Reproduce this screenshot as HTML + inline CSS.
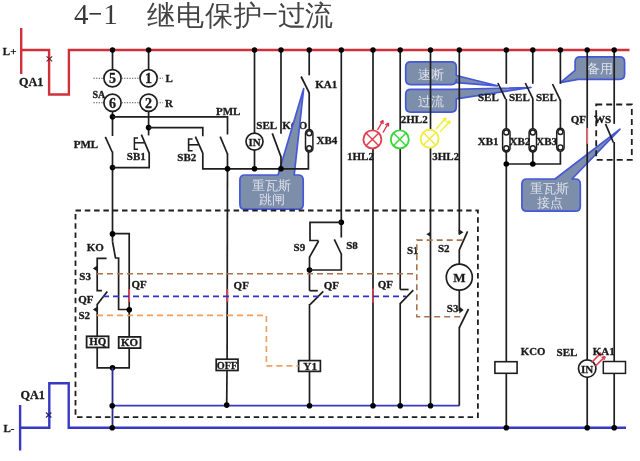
<!DOCTYPE html>
<html><head><meta charset="utf-8"><style>
html,body{margin:0;padding:0;background:#fff;overflow:hidden}
svg{display:block;will-change:transform}
.t{position:absolute;font-family:"Liberation Sans",sans-serif;color:#333;white-space:nowrap}
</style></head><body>
<div style="position:relative;width:640px;height:461px;overflow:hidden">
<svg width="640" height="461" viewBox="0 0 640 461">
<text x="74" y="24" font-family="Liberation Serif" font-size="29" fill="#3a3a3a">4</text>
<rect x="89.5" y="13" width="11.5" height="1.6" fill="#333"/>
<text x="103.3" y="24" font-family="Liberation Serif" font-size="29" fill="#3a3a3a">1</text>
<text x="147" y="25.3" font-family="Liberation Sans" font-size="28" font-weight="300" fill="#444" letter-spacing="1">继电保护</text>
<rect x="263.5" y="13" width="13" height="1.6" fill="#333"/>
<text x="278.2" y="25.3" font-family="Liberation Sans" font-size="28" font-weight="300" fill="#444" letter-spacing="-1.5">过流</text>
<text x="282.3" y="128.7" font-family="Liberation Serif" font-size="11" font-weight="bold" fill="#1a1a1a" text-anchor="start" stroke="#1a1a1a" stroke-width="0.3">KCO</text>
<path d="M410.70000000000005,61.9 L451.30000000000007,61.9 Q456.30000000000007,61.9 456.30000000000007,66.9 L456.30000000000007,75.5 L497.5,85.8 L456.30000000000007,82.6 L456.30000000000007,79.6 Q456.30000000000007,84.6 451.30000000000007,84.6 L410.70000000000005,84.6 Q405.70000000000005,84.6 405.70000000000005,79.6 L405.70000000000005,66.9 Q405.70000000000005,61.9 410.70000000000005,61.9 Z" fill="#7d8eab" stroke="#4658d8" stroke-width="1.7" stroke-linejoin="round"/>
<text x="431" y="78.5" font-family="Liberation Sans" font-size="12.8" font-weight="normal" fill="#dde1ea" text-anchor="middle" >速断</text>
<path d="M410.70000000000005,89.39999999999999 L452.5,89.39999999999999 L531,87.5 L456.30000000000007,98.8 L456.30000000000007,107.1 Q456.30000000000007,112.1 451.30000000000007,112.1 L410.70000000000005,112.1 Q405.70000000000005,112.1 405.70000000000005,107.1 L405.70000000000005,94.39999999999999 Q405.70000000000005,89.39999999999999 410.70000000000005,89.39999999999999 Z" fill="#7d8eab" stroke="#4658d8" stroke-width="1.7" stroke-linejoin="round"/>
<text x="431" y="106" font-family="Liberation Sans" font-size="12.8" font-weight="normal" fill="#dde1ea" text-anchor="middle" >过流</text>
<path d="M580.1,56.9 L619.6,56.9 Q624.6,56.9 624.6,61.9 L624.6,74.3 Q624.6,79.3 619.6,79.3 L578,79.3 L560.4,82.6 L575.1,70.4 L575.1,61.9 Q575.1,56.9 580.1,56.9 Z" fill="#7d8eab" stroke="#4658d8" stroke-width="1.7" stroke-linejoin="round"/>
<text x="599.9" y="72.8" font-family="Liberation Sans" font-size="12.8" font-weight="normal" fill="#dde1ea" text-anchor="middle" >备用</text>
<path d="M244.9,175.0 L278,175.0 L303.7,88.5 L294.2,175.0 L298.2,175.0 Q303.2,175.0 303.2,180.0 L303.2,204.2 Q303.2,209.2 298.2,209.2 L244.9,209.2 Q239.9,209.2 239.9,204.2 L239.9,180.0 Q239.9,175.0 244.9,175.0 Z" fill="#7d8eab" stroke="#4658d8" stroke-width="1.7" stroke-linejoin="round"/>
<text x="271.8" y="189.8" font-family="Liberation Sans" font-size="12.8" font-weight="normal" fill="#dde1ea" text-anchor="middle" >重瓦斯</text>
<text x="271.8" y="203.8" font-family="Liberation Sans" font-size="12.8" font-weight="normal" fill="#dde1ea" text-anchor="middle" >跳闸</text>
<path d="M526.9,179.0 L555,179.0 L620,129.2 L572,179.0 L575.3,179.0 Q580.3,179.0 580.3,184.0 L580.3,206.2 Q580.3,211.2 575.3,211.2 L526.9,211.2 Q521.9,211.2 521.9,206.2 L521.9,184.0 Q521.9,179.0 526.9,179.0 Z" fill="#7d8eab" stroke="#4658d8" stroke-width="1.7" stroke-linejoin="round"/>
<text x="549.8" y="192.8" font-family="Liberation Sans" font-size="12.8" font-weight="normal" fill="#dde1ea" text-anchor="middle" >重瓦斯</text>
<text x="549.8" y="206.6" font-family="Liberation Sans" font-size="12.8" font-weight="normal" fill="#dde1ea" text-anchor="middle" >接点</text>
<polyline points="21.2,50.0 49.1,50.0 49.1,94.5 68.9,94.5 68.9,50.0 629.5,50.0" fill="none" stroke="#d0303a" stroke-width="2.4" stroke-linejoin="miter" />
<line x1="21.2" y1="28" x2="21.2" y2="74" stroke="#d0303a" stroke-width="2.4" />
<line x1="46.6" y1="56.4" x2="52.2" y2="61.4" stroke="#702028" stroke-width="1.1" />
<line x1="52.2" y1="56.4" x2="46.6" y2="61.4" stroke="#702028" stroke-width="1.1" />
<text x="2.8" y="54.6" font-family="Liberation Serif" font-size="11" font-weight="bold" fill="#1a1a1a" text-anchor="start" stroke="#1a1a1a" stroke-width="0.3">L+</text>
<text x="19" y="86.2" font-family="Liberation Serif" font-size="12.2" font-weight="bold" fill="#1a1a1a" text-anchor="start" stroke="#1a1a1a" stroke-width="0.3">QA1</text>
<polyline points="20.1,427.7 49.3,427.7 49.3,383.2 68.7,383.2 68.7,427.7 626,427.7" fill="none" stroke="#3838c4" stroke-width="2.4" stroke-linejoin="miter" />
<line x1="20.1" y1="405" x2="20.1" y2="450.5" stroke="#3838c4" stroke-width="2.4" />
<line x1="46" y1="412.5" x2="51.4" y2="417.5" stroke="#202070" stroke-width="1.1" />
<line x1="51.4" y1="412.5" x2="46" y2="417.5" stroke="#202070" stroke-width="1.1" />
<text x="3.5" y="431.5" font-family="Liberation Serif" font-size="11" font-weight="bold" fill="#1a1a1a" text-anchor="start" stroke="#1a1a1a" stroke-width="0.3">L-</text>
<text x="20.5" y="398.8" font-family="Liberation Serif" font-size="12.2" font-weight="bold" fill="#1a1a1a" text-anchor="start" stroke="#1a1a1a" stroke-width="0.3">QA1</text>
<line x1="459.3" y1="405.7" x2="112.5" y2="405.7" stroke="#3838c4" stroke-width="1.8" />
<rect x="75.5" y="210.5" width="402.4" height="206.6" fill="none" stroke="#1e1e1e" stroke-width="1.8" stroke-dasharray="5.5,3.8"/>
<rect x="596.2" y="104.5" width="35.6" height="55.3" fill="none" stroke="#1e1e1e" stroke-width="1.8" stroke-dasharray="6,4"/>
<line x1="112.5" y1="50.0" x2="112.5" y2="69.5" stroke="#1e1e1e" stroke-width="1.7" />
<line x1="148.6" y1="50.0" x2="148.6" y2="69.5" stroke="#1e1e1e" stroke-width="1.7" />
<circle cx="112.5" cy="78.2" r="8.6" fill="#fff" stroke="#1e1e1e" stroke-width="1.7"/>
<text x="112.5" y="83.2" font-family="Liberation Serif" font-size="14" font-weight="bold" fill="#1a1a1a" text-anchor="middle" stroke="#1a1a1a" stroke-width="0.3">5</text>
<circle cx="148.6" cy="78.2" r="8.6" fill="#fff" stroke="#1e1e1e" stroke-width="1.7"/>
<text x="148.6" y="83.2" font-family="Liberation Serif" font-size="14" font-weight="bold" fill="#1a1a1a" text-anchor="middle" stroke="#1a1a1a" stroke-width="0.3">1</text>
<circle cx="112.5" cy="102.8" r="8.6" fill="#fff" stroke="#1e1e1e" stroke-width="1.7"/>
<text x="112.5" y="107.8" font-family="Liberation Serif" font-size="14" font-weight="bold" fill="#1a1a1a" text-anchor="middle" stroke="#1a1a1a" stroke-width="0.3">6</text>
<circle cx="148.6" cy="102.8" r="8.6" fill="#fff" stroke="#1e1e1e" stroke-width="1.7"/>
<text x="148.6" y="107.8" font-family="Liberation Serif" font-size="14" font-weight="bold" fill="#1a1a1a" text-anchor="middle" stroke="#1a1a1a" stroke-width="0.3">2</text>
<line x1="93.5" y1="78.2" x2="103.8" y2="78.2" stroke="#555" stroke-width="1.1" stroke-dasharray="1.3,1.3"/>
<line x1="121.6" y1="78.2" x2="139.4" y2="78.2" stroke="#555" stroke-width="1.1" stroke-dasharray="1.3,1.3"/>
<line x1="157" y1="78.2" x2="163" y2="78.2" stroke="#555" stroke-width="1.1" stroke-dasharray="1.3,1.3"/>
<line x1="93.5" y1="102.8" x2="103.8" y2="102.8" stroke="#555" stroke-width="1.1" stroke-dasharray="1.3,1.3"/>
<line x1="121.6" y1="102.8" x2="139.4" y2="102.8" stroke="#555" stroke-width="1.1" stroke-dasharray="1.3,1.3"/>
<line x1="157" y1="102.8" x2="163" y2="102.8" stroke="#555" stroke-width="1.1" stroke-dasharray="1.3,1.3"/>
<text x="165.5" y="82.2" font-family="Liberation Serif" font-size="11" font-weight="bold" fill="#1a1a1a" text-anchor="start" stroke="#1a1a1a" stroke-width="0.3">L</text>
<text x="165" y="107" font-family="Liberation Serif" font-size="11" font-weight="bold" fill="#1a1a1a" text-anchor="start" stroke="#1a1a1a" stroke-width="0.3">R</text>
<text x="92.5" y="98.3" font-family="Liberation Serif" font-size="10" font-weight="bold" fill="#1a1a1a" text-anchor="start" stroke="#1a1a1a" stroke-width="0.3">SA</text>
<line x1="112.5" y1="111.4" x2="112.5" y2="136" stroke="#1e1e1e" stroke-width="1.7" />
<line x1="148.6" y1="111.4" x2="148.6" y2="135.4" stroke="#1e1e1e" stroke-width="1.7" />
<circle cx="112.5" cy="116.8" r="2.8" fill="#000"/>
<circle cx="148.6" cy="127.6" r="2.8" fill="#000"/>
<polyline points="112.5,116.8 227.5,116.8 227.5,134.6" fill="none" stroke="#1e1e1e" stroke-width="1.7" stroke-linejoin="miter" />
<polyline points="148.6,127.6 202.8,127.6 202.8,136.3" fill="none" stroke="#1e1e1e" stroke-width="1.7" stroke-linejoin="miter" />
<line x1="105.3" y1="136.8" x2="112.2" y2="152" stroke="#1e1e1e" stroke-width="1.7" />
<line x1="112.5" y1="151.5" x2="112.5" y2="234" stroke="#1e1e1e" stroke-width="1.7" />
<circle cx="112.5" cy="167.6" r="2.8" fill="#000"/>
<polyline points="112.5,167.6 149.2,167.6 149.2,152.8" fill="none" stroke="#1e1e1e" stroke-width="1.7" stroke-linejoin="miter" />
<line x1="141.4" y1="134.7" x2="149.2" y2="153.2" stroke="#1e1e1e" stroke-width="1.7" />
<polyline points="138,138 134.4,138 134.4,149.3 138,149.3" fill="none" stroke="#1e1e1e" stroke-width="1.5" stroke-linejoin="miter" />
<line x1="134.4" y1="142.8" x2="144" y2="142.8" stroke="#1e1e1e" stroke-width="1.5" />
<text x="73.7" y="148.2" font-family="Liberation Serif" font-size="11" font-weight="bold" fill="#1a1a1a" text-anchor="start" stroke="#1a1a1a" stroke-width="0.3">PML</text>
<text x="126.8" y="159.8" font-family="Liberation Serif" font-size="11" font-weight="bold" fill="#1a1a1a" text-anchor="start" stroke="#1a1a1a" stroke-width="0.3">SB1</text>
<line x1="195.4" y1="136.7" x2="202.8" y2="153.2" stroke="#1e1e1e" stroke-width="1.7" />
<polyline points="202.8,153 202.8,168.8 308.4,168.8 308.4,151" fill="none" stroke="#1e1e1e" stroke-width="1.7" stroke-linejoin="miter" />
<polyline points="192.6,139 188.6,139 188.6,150.8 192.6,150.8" fill="none" stroke="#1e1e1e" stroke-width="1.6" stroke-linejoin="miter" />
<line x1="188.6" y1="144.8" x2="198.6" y2="144.8" stroke="#1e1e1e" stroke-width="1.6" />
<text x="177.3" y="160.7" font-family="Liberation Serif" font-size="11" font-weight="bold" fill="#1a1a1a" text-anchor="start" stroke="#1a1a1a" stroke-width="0.3">SB2</text>
<line x1="220.2" y1="136.7" x2="227.5" y2="154" stroke="#1e1e1e" stroke-width="1.7" />
<line x1="227.5" y1="153.5" x2="227.1" y2="359.4" stroke="#1e1e1e" stroke-width="1.7" />
<circle cx="227.5" cy="168.8" r="2.8" fill="#000"/>
<text x="216" y="114.5" font-family="Liberation Serif" font-size="11" font-weight="bold" fill="#1a1a1a" text-anchor="start" stroke="#1a1a1a" stroke-width="0.3">PML</text>
<line x1="254.5" y1="50.0" x2="254.5" y2="133" stroke="#1e1e1e" stroke-width="1.7" />
<line x1="254.5" y1="150" x2="254.5" y2="168.8" stroke="#1e1e1e" stroke-width="1.7" />
<circle cx="254.5" cy="141.6" r="8.5" fill="#fff" stroke="#1e1e1e" stroke-width="1.7"/>
<text x="254.5" y="145.6" font-family="Liberation Serif" font-size="11" font-weight="bold" fill="#1a1a1a" text-anchor="middle" stroke="#1a1a1a" stroke-width="0.3">IN</text>
<circle cx="254.5" cy="168.8" r="2.8" fill="#000"/>
<line x1="281" y1="50.0" x2="281" y2="133.8" stroke="#1e1e1e" stroke-width="1.7" />
<line x1="272.3" y1="133.4" x2="281.1" y2="157.1" stroke="#1e1e1e" stroke-width="1.7" />
<line x1="281" y1="156.5" x2="281" y2="168.8" stroke="#1e1e1e" stroke-width="1.7" />
<circle cx="281" cy="168.8" r="2.8" fill="#000"/>
<text x="256.3" y="128.7" font-family="Liberation Serif" font-size="11" font-weight="bold" fill="#1a1a1a" text-anchor="start" stroke="#1a1a1a" stroke-width="0.3">SEL</text>
<line x1="309.2" y1="50.0" x2="309.2" y2="75.3" stroke="#1e1e1e" stroke-width="1.7" />
<line x1="301.1" y1="76.5" x2="309.3" y2="93" stroke="#1e1e1e" stroke-width="1.7" />
<line x1="309.2" y1="92.5" x2="309.2" y2="130" stroke="#1e1e1e" stroke-width="1.7" />
<text x="315.3" y="88" font-family="Liberation Serif" font-size="11" font-weight="bold" fill="#1a1a1a" text-anchor="start" stroke="#1a1a1a" stroke-width="0.3">KA1</text>
<rect x="305.5" y="129.5" width="7.4" height="22.5" rx="3.7" ry="3.7" fill="#fff" stroke="#1e1e1e" stroke-width="1.5"/>
<circle cx="309.2" cy="133.3" r="2.5" fill="#fff" stroke="#1e1e1e" stroke-width="1.4"/>
<circle cx="309.2" cy="148.2" r="2.5" fill="#fff" stroke="#1e1e1e" stroke-width="1.4"/>
<text x="316.5" y="144.4" font-family="Liberation Serif" font-size="11" font-weight="bold" fill="#1a1a1a" text-anchor="start" stroke="#1a1a1a" stroke-width="0.3">XB4</text>
<line x1="341.3" y1="50.0" x2="341.3" y2="237.5" stroke="#1e1e1e" stroke-width="1.7" />
<circle cx="341.3" cy="222.3" r="2.8" fill="#000"/>
<polyline points="341.3,222.3 310,222.3 310,240.5 318.6,240.5" fill="none" stroke="#1e1e1e" stroke-width="1.7" stroke-linejoin="miter" />
<line x1="318.6" y1="241" x2="309.5" y2="257.2" stroke="#1e1e1e" stroke-width="1.7" />
<line x1="309.5" y1="256.7" x2="309.5" y2="290.7" stroke="#1e1e1e" stroke-width="1.7" />
<circle cx="309.5" cy="270" r="2.8" fill="#000"/>
<line x1="334.3" y1="239.3" x2="341.3" y2="254" stroke="#1e1e1e" stroke-width="1.7" />
<polyline points="341.3,253.5 341.3,270 309.5,270" fill="none" stroke="#1e1e1e" stroke-width="1.7" stroke-linejoin="miter" />
<text x="293.6" y="251" font-family="Liberation Serif" font-size="11" font-weight="bold" fill="#1a1a1a" text-anchor="start" stroke="#1a1a1a" stroke-width="0.3">S9</text>
<text x="346.2" y="249.3" font-family="Liberation Serif" font-size="11" font-weight="bold" fill="#1a1a1a" text-anchor="start" stroke="#1a1a1a" stroke-width="0.3">S8</text>
<polyline points="309.5,290.7 317.8,290.7" fill="none" stroke="#1e1e1e" stroke-width="1.7" stroke-linejoin="miter" />
<line x1="323.3" y1="291.4" x2="310" y2="304.6" stroke="#1e1e1e" stroke-width="1.7" />
<line x1="309.5" y1="304" x2="309.5" y2="361.2" stroke="#1e1e1e" stroke-width="1.7" />
<rect x="298.6" y="360.6" width="21.8" height="10.8" fill="#fff" stroke="#1e1e1e" stroke-width="1.7"/>
<text x="310.2" y="369.6" font-family="Liberation Serif" font-size="11.2" font-weight="bold" fill="#1a1a1a" text-anchor="middle" stroke="#1a1a1a" stroke-width="0.3">Y1</text>
<line x1="309.5" y1="371.7" x2="309.5" y2="405.7" stroke="#1e1e1e" stroke-width="1.7" />
<circle cx="309.5" cy="405.7" r="2.8" fill="#000"/>
<text x="323.7" y="288.5" font-family="Liberation Serif" font-size="11" font-weight="bold" fill="#1a1a1a" text-anchor="start" stroke="#1a1a1a" stroke-width="0.3">QF</text>
<text x="233.6" y="288.6" font-family="Liberation Serif" font-size="11" font-weight="bold" fill="#1a1a1a" text-anchor="start" stroke="#1a1a1a" stroke-width="0.3">QF</text>
<rect x="216.2" y="359.2" width="21.8" height="11.3" fill="#fff" stroke="#1e1e1e" stroke-width="1.7"/>
<text x="227.1" y="368.6" font-family="Liberation Serif" font-size="11" font-weight="bold" fill="#1a1a1a" text-anchor="middle" stroke="#1a1a1a" stroke-width="0.3" textLength="20.5" lengthAdjust="spacingAndGlyphs">OFF</text>
<line x1="227.0" y1="370.3" x2="226.7" y2="405.7" stroke="#1e1e1e" stroke-width="1.7" />
<circle cx="226.7" cy="405.09999999999997" r="2.8" fill="#000"/>
<line x1="373.0" y1="50.0" x2="373.0" y2="130.3" stroke="#1e1e1e" stroke-width="1.7" />
<line x1="373.0" y1="148.5" x2="373.0" y2="405.7" stroke="#1e1e1e" stroke-width="1.7" />
<circle cx="372.4" cy="139.4" r="9.0" fill="none" stroke="#e04050" stroke-width="1.9"/>
<line x1="366.0361" y1="133.0361" x2="378.7639" y2="145.7639" stroke="#e04050" stroke-width="1.5" />
<line x1="378.7639" y1="133.0361" x2="366.0361" y2="145.7639" stroke="#e04050" stroke-width="1.5" />
<line x1="377.5" y1="130" x2="383" y2="120.5" stroke="#e03040" stroke-width="1.4" />
<line x1="383" y1="120.5" x2="380.00887145070647" y2="122.31745701506284" stroke="#e03040" stroke-width="1.4" />
<line x1="383" y1="120.5" x2="382.9132236919796" y2="123.99892410211572" stroke="#e03040" stroke-width="1.4" />
<line x1="383" y1="132.5" x2="388.5" y2="123" stroke="#e03040" stroke-width="1.4" />
<line x1="388.5" y1="123" x2="385.50887145070647" y2="124.81745701506284" stroke="#e03040" stroke-width="1.4" />
<line x1="388.5" y1="123" x2="388.4132236919796" y2="126.49892410211572" stroke="#e03040" stroke-width="1.4" />
<circle cx="373.0" cy="405.7" r="2.8" fill="#000"/>
<text x="347" y="160" font-family="Liberation Serif" font-size="11" font-weight="bold" fill="#1a1a1a" text-anchor="start" stroke="#1a1a1a" stroke-width="0.3">1HL2</text>
<line x1="400.2" y1="50.0" x2="400.2" y2="130.3" stroke="#1e1e1e" stroke-width="1.7" />
<line x1="400.2" y1="148.5" x2="400.2" y2="289.5" stroke="#1e1e1e" stroke-width="1.7" />
<circle cx="399.8" cy="139.4" r="9.0" fill="none" stroke="#38d838" stroke-width="1.9"/>
<line x1="393.4361" y1="133.0361" x2="406.1639" y2="145.7639" stroke="#38d838" stroke-width="1.5" />
<line x1="406.1639" y1="133.0361" x2="393.4361" y2="145.7639" stroke="#38d838" stroke-width="1.5" />
<text x="400.8" y="123.4" font-family="Liberation Serif" font-size="11" font-weight="bold" fill="#1a1a1a" text-anchor="start" stroke="#1a1a1a" stroke-width="0.3">2HL2</text>
<polyline points="400.2,289.5 408.6,289.5" fill="none" stroke="#1e1e1e" stroke-width="1.7" stroke-linejoin="miter" />
<line x1="413.3" y1="290.1" x2="400.2" y2="303.6" stroke="#1e1e1e" stroke-width="1.7" />
<line x1="400.2" y1="303" x2="400.2" y2="405.7" stroke="#1e1e1e" stroke-width="1.7" />
<circle cx="400.2" cy="405.7" r="2.8" fill="#000"/>
<text x="407" y="253.5" font-family="Liberation Serif" font-size="11" font-weight="bold" fill="#1a1a1a" text-anchor="start" stroke="#1a1a1a" stroke-width="0.3">S1</text>
<line x1="430.5" y1="50.0" x2="430.5" y2="129.5" stroke="#1e1e1e" stroke-width="1.7" />
<line x1="430.5" y1="147.5" x2="430.5" y2="405.7" stroke="#1e1e1e" stroke-width="1.7" />
<circle cx="429.6" cy="138.8" r="9.0" fill="none" stroke="#f0ec40" stroke-width="1.9"/>
<line x1="423.2361" y1="132.4361" x2="435.9639" y2="145.1639" stroke="#f0ec40" stroke-width="1.5" />
<line x1="435.9639" y1="132.4361" x2="423.2361" y2="145.1639" stroke="#f0ec40" stroke-width="1.5" />
<line x1="436" y1="129" x2="446" y2="118" stroke="#f0f040" stroke-width="1.6" />
<line x1="446" y1="118" x2="442.6922477126783" y2="119.1440169604153" stroke="#f0f040" stroke-width="1.6" />
<line x1="446" y1="118" x2="445.1754708902371" y2="121.40149257637783" stroke="#f0f040" stroke-width="1.6" />
<line x1="440" y1="132" x2="450" y2="121" stroke="#f0f040" stroke-width="1.6" />
<line x1="450" y1="121" x2="446.6922477126783" y2="122.1440169604153" stroke="#f0f040" stroke-width="1.6" />
<line x1="450" y1="121" x2="449.1754708902371" y2="124.40149257637783" stroke="#f0f040" stroke-width="1.6" />
<circle cx="430.5" cy="405.7" r="2.8" fill="#000"/>
<text x="432.3" y="160" font-family="Liberation Serif" font-size="11" font-weight="bold" fill="#1a1a1a" text-anchor="start" stroke="#1a1a1a" stroke-width="0.3">3HL2</text>
<text x="377.7" y="287.8" font-family="Liberation Serif" font-size="11" font-weight="bold" fill="#1a1a1a" text-anchor="start" stroke="#1a1a1a" stroke-width="0.3">QF</text>
<polygon points="426.3,234.3 430.5,231.8 430.5,236.8" fill="#1e1e1e"/>
<line x1="459.3" y1="50.0" x2="459.3" y2="234.3" stroke="#1e1e1e" stroke-width="1.7" />
<polygon points="458.8,229.3 463.5,232.3 458.8,235.3" fill="#1e1e1e"/>
<line x1="467.6" y1="231.3" x2="459.3" y2="249.9" stroke="#1e1e1e" stroke-width="1.7" />
<line x1="459.3" y1="249.5" x2="459.3" y2="264" stroke="#1e1e1e" stroke-width="1.7" />
<circle cx="459.3" cy="277.2" r="13.0" fill="#fff" stroke="#1e1e1e" stroke-width="1.7"/>
<text x="459.3" y="282.3" font-family="Liberation Serif" font-size="13" font-weight="bold" fill="#1a1a1a" text-anchor="middle" stroke="#1a1a1a" stroke-width="0.3">M</text>
<line x1="459.3" y1="290.2" x2="459.3" y2="311" stroke="#1e1e1e" stroke-width="1.7" />
<polygon points="459.3,306.5 463.6,310 459.3,313.5" fill="#1e1e1e"/>
<line x1="468.5" y1="309" x2="459.3" y2="327.6" stroke="#1e1e1e" stroke-width="1.7" />
<line x1="459.3" y1="327" x2="459.3" y2="405.7" stroke="#1e1e1e" stroke-width="1.7" />
<text x="438" y="252" font-family="Liberation Serif" font-size="11" font-weight="bold" fill="#1a1a1a" text-anchor="start" stroke="#1a1a1a" stroke-width="0.3">S2</text>
<text x="446.8" y="312.2" font-family="Liberation Serif" font-size="11" font-weight="bold" fill="#1a1a1a" text-anchor="start" stroke="#1a1a1a" stroke-width="0.3">S3</text>
<polyline points="112.5,233.7 129.2,233.7 129.2,336" fill="none" stroke="#1e1e1e" stroke-width="1.7" stroke-linejoin="miter" />
<line x1="112.5" y1="233.7" x2="112.5" y2="241.5" stroke="#1e1e1e" stroke-width="1.7" />
<line x1="112.5" y1="241.5" x2="115.5" y2="258" stroke="#1e1e1e" stroke-width="1.7" />
<polyline points="115,258 118.6,258 118.6,309.5 129.2,309.5" fill="none" stroke="#1e1e1e" stroke-width="1.7" stroke-linejoin="miter" />
<circle cx="129.3" cy="309.7" r="2.8" fill="#000"/>
<circle cx="112.5" cy="233.9" r="2.8" fill="#000"/>
<polyline points="106.6,258.4 97.2,258.4 97.2,290.6 101.9,290.6" fill="none" stroke="#1e1e1e" stroke-width="1.7" stroke-linejoin="miter" />
<polygon points="92.8,268.4 97.2,265.6 97.2,271.2" fill="#1e1e1e"/>
<line x1="97.2" y1="304.4" x2="107.3" y2="291.4" stroke="#1e1e1e" stroke-width="1.7" />
<line x1="97.2" y1="304" x2="97.2" y2="336" stroke="#1e1e1e" stroke-width="1.7" />
<polygon points="92.8,309.5 97.2,306.7 97.2,312.3" fill="#1e1e1e"/>
<text x="86.8" y="250.5" font-family="Liberation Serif" font-size="11" font-weight="bold" fill="#1a1a1a" text-anchor="start" stroke="#1a1a1a" stroke-width="0.3">KO</text>
<text x="79.3" y="280.2" font-family="Liberation Serif" font-size="11" font-weight="bold" fill="#1a1a1a" text-anchor="start" stroke="#1a1a1a" stroke-width="0.3">S3</text>
<text x="78.2" y="303.3" font-family="Liberation Serif" font-size="11" font-weight="bold" fill="#1a1a1a" text-anchor="start" stroke="#1a1a1a" stroke-width="0.3">QF</text>
<text x="78.5" y="318.8" font-family="Liberation Serif" font-size="11" font-weight="bold" fill="#1a1a1a" text-anchor="start" stroke="#1a1a1a" stroke-width="0.3">S2</text>
<text x="131.5" y="287.5" font-family="Liberation Serif" font-size="11" font-weight="bold" fill="#1a1a1a" text-anchor="start" stroke="#1a1a1a" stroke-width="0.3">QF</text>
<rect x="86.6" y="336.3" width="22" height="11.2" fill="#fff" stroke="#1e1e1e" stroke-width="1.8"/>
<text x="97.8" y="345.4" font-family="Liberation Serif" font-size="11" font-weight="bold" fill="#1a1a1a" text-anchor="middle" stroke="#1a1a1a" stroke-width="0.3">HQ</text>
<rect x="118.7" y="336.9" width="21.8" height="11.2" fill="#fff" stroke="#1e1e1e" stroke-width="1.8"/>
<text x="129.6" y="345.8" font-family="Liberation Serif" font-size="11" font-weight="bold" fill="#1a1a1a" text-anchor="middle" stroke="#1a1a1a" stroke-width="0.3">KO</text>
<polyline points="97.2,347.4 97.2,367.8 129.2,367.8 129.2,347.4" fill="none" stroke="#1e1e1e" stroke-width="1.7" stroke-linejoin="miter" />
<circle cx="112.5" cy="367.8" r="2.8" fill="#000"/>
<line x1="112.5" y1="367.8" x2="112.5" y2="427.7" stroke="#2a2a90" stroke-width="1.8" />
<circle cx="112.2" cy="405.7" r="2.8" fill="#000"/>
<circle cx="112.2" cy="427.7" r="2.8" fill="#000"/>
<line x1="129.2" y1="289" x2="129.2" y2="302" stroke="#e84050" stroke-width="1.6" />
<line x1="227.5" y1="289" x2="227.5" y2="302" stroke="#e84050" stroke-width="1.6" />
<line x1="373.0" y1="288.5" x2="373.0" y2="302.5" stroke="#e84050" stroke-width="1.6" />
<line x1="97" y1="273.8" x2="416.8" y2="273.8" stroke="#a8744e" stroke-width="1.6" stroke-dasharray="6,4"/>
<line x1="103" y1="296.4" x2="406" y2="296.4" stroke="#3030c8" stroke-width="1.6" stroke-dasharray="6,4"/>
<polyline points="97,315.3 266.4,315.3 266.4,365.9 298.5,365.9" fill="none" stroke="#f0a060" stroke-width="1.7" stroke-linejoin="miter" stroke-dasharray="6,4"/>
<polyline points="462.7,240.1 416.8,240.1 416.8,316.8 462,316.8" fill="none" stroke="#a8744e" stroke-width="1.6" stroke-dasharray="6,4"/>
<line x1="506.3" y1="50.0" x2="506.3" y2="83.8" stroke="#1e1e1e" stroke-width="1.7" />
<line x1="532.8" y1="50.0" x2="532.8" y2="83.8" stroke="#1e1e1e" stroke-width="1.7" />
<line x1="560.4" y1="50.0" x2="560.4" y2="83.8" stroke="#1e1e1e" stroke-width="1.7" />
<line x1="497.9" y1="83" x2="505.6" y2="99.2" stroke="#1e1e1e" stroke-width="1.7" />
<line x1="525.3" y1="83" x2="533" y2="99.2" stroke="#1e1e1e" stroke-width="1.7" />
<line x1="552.5" y1="84" x2="560.5" y2="100.6" stroke="#1e1e1e" stroke-width="1.7" />
<line x1="506.3" y1="99" x2="506.3" y2="129" stroke="#1e1e1e" stroke-width="1.7" />
<line x1="532.8" y1="99" x2="532.8" y2="129" stroke="#1e1e1e" stroke-width="1.7" />
<line x1="560.4" y1="100" x2="560.4" y2="128.5" stroke="#1e1e1e" stroke-width="1.7" />
<rect x="502.6" y="128.7" width="7.4" height="23.30000000000001" rx="3.7" ry="3.7" fill="#fff" stroke="#1e1e1e" stroke-width="1.5"/>
<circle cx="506.3" cy="132.5" r="2.5" fill="#fff" stroke="#1e1e1e" stroke-width="1.4"/>
<circle cx="506.3" cy="148.2" r="2.5" fill="#fff" stroke="#1e1e1e" stroke-width="1.4"/>
<rect x="529.0999999999999" y="128.7" width="7.4" height="23.30000000000001" rx="3.7" ry="3.7" fill="#fff" stroke="#1e1e1e" stroke-width="1.5"/>
<circle cx="532.8" cy="132.5" r="2.5" fill="#fff" stroke="#1e1e1e" stroke-width="1.4"/>
<circle cx="532.8" cy="148.2" r="2.5" fill="#fff" stroke="#1e1e1e" stroke-width="1.4"/>
<rect x="556.6999999999999" y="128.2" width="7.4" height="23.0" rx="3.7" ry="3.7" fill="#fff" stroke="#1e1e1e" stroke-width="1.5"/>
<circle cx="560.4" cy="132.0" r="2.5" fill="#fff" stroke="#1e1e1e" stroke-width="1.4"/>
<circle cx="560.4" cy="147.39999999999998" r="2.5" fill="#fff" stroke="#1e1e1e" stroke-width="1.4"/>
<polyline points="506.3,151.5 506.3,361.5" fill="none" stroke="#1e1e1e" stroke-width="1.7" stroke-linejoin="miter" />
<line x1="532.8" y1="151.5" x2="532.8" y2="164" stroke="#1e1e1e" stroke-width="1.7" />
<polyline points="560.4,151 560.4,164 506.3,164" fill="none" stroke="#1e1e1e" stroke-width="1.7" stroke-linejoin="miter" />
<circle cx="506.3" cy="164" r="2.8" fill="#000"/>
<circle cx="532.8" cy="164" r="2.8" fill="#000"/>
<text x="478" y="101" font-family="Liberation Serif" font-size="11" font-weight="bold" fill="#1a1a1a" text-anchor="start" stroke="#1a1a1a" stroke-width="0.3">SEL</text>
<text x="509" y="101" font-family="Liberation Serif" font-size="11" font-weight="bold" fill="#1a1a1a" text-anchor="start" stroke="#1a1a1a" stroke-width="0.3">SEL</text>
<text x="536" y="101" font-family="Liberation Serif" font-size="11" font-weight="bold" fill="#1a1a1a" text-anchor="start" stroke="#1a1a1a" stroke-width="0.3">SEL</text>
<text x="477.8" y="144.7" font-family="Liberation Serif" font-size="11" font-weight="bold" fill="#1a1a1a" text-anchor="start" stroke="#1a1a1a" stroke-width="0.3">XB1</text>
<text x="509.5" y="144.7" font-family="Liberation Serif" font-size="11" font-weight="bold" fill="#1a1a1a" text-anchor="start" stroke="#1a1a1a" stroke-width="0.3">XB2</text>
<text x="536.3" y="144.7" font-family="Liberation Serif" font-size="11" font-weight="bold" fill="#1a1a1a" text-anchor="start" stroke="#1a1a1a" stroke-width="0.3">XB3</text>
<rect x="494.9" y="361.7" width="22.2" height="11.6" fill="#fff" stroke="#1e1e1e" stroke-width="1.6"/>
<line x1="506.3" y1="373.4" x2="506.3" y2="427.7" stroke="#1e1e1e" stroke-width="1.7" />
<circle cx="506.3" cy="427.7" r="2.8" fill="#000"/>
<text x="520.8" y="354.8" font-family="Liberation Serif" font-size="10.8" font-weight="bold" fill="#1a1a1a" text-anchor="start" stroke="#1a1a1a" stroke-width="0.3">KCO</text>
<line x1="587.2" y1="50.0" x2="587.2" y2="360" stroke="#1e1e1e" stroke-width="1.7" />
<line x1="587.2" y1="128" x2="587.2" y2="143.8" stroke="#f06878" stroke-width="1.7" />
<text x="570.8" y="122.5" font-family="Liberation Serif" font-size="11" font-weight="bold" fill="#1a1a1a" text-anchor="start" stroke="#1a1a1a" stroke-width="0.3">QF</text>
<circle cx="587.2" cy="368.6" r="8.7" fill="#fff" stroke="#1e1e1e" stroke-width="1.7"/>
<text x="587.2" y="372.6" font-family="Liberation Serif" font-size="11" font-weight="bold" fill="#1a1a1a" text-anchor="middle" stroke="#1a1a1a" stroke-width="0.3">IN</text>
<line x1="587.2" y1="377.3" x2="587.2" y2="427.7" stroke="#1e1e1e" stroke-width="1.7" />
<circle cx="587.2" cy="427.7" r="2.8" fill="#000"/>
<text x="556.6" y="356.3" font-family="Liberation Serif" font-size="11" font-weight="bold" fill="#1a1a1a" text-anchor="start" stroke="#1a1a1a" stroke-width="0.3">SEL</text>
<line x1="591.5" y1="362.5" x2="601" y2="353" stroke="#e04050" stroke-width="1.7" />
<line x1="601" y1="353" x2="597.6415762950533" y2="353.98538835899944" stroke="#e04050" stroke-width="1.7" />
<line x1="601" y1="353" x2="600.0146116410006" y2="356.35842370494674" stroke="#e04050" stroke-width="1.7" />
<line x1="595.5" y1="366" x2="605" y2="356.5" stroke="#e04050" stroke-width="1.7" />
<line x1="605" y1="356.5" x2="601.6415762950533" y2="357.48538835899944" stroke="#e04050" stroke-width="1.7" />
<line x1="605" y1="356.5" x2="604.0146116410006" y2="359.85842370494674" stroke="#e04050" stroke-width="1.7" />
<line x1="614.2" y1="50.0" x2="614.2" y2="123.9" stroke="#1e1e1e" stroke-width="1.7" />
<line x1="605.5" y1="123.9" x2="613.4" y2="142.5" stroke="#1e1e1e" stroke-width="1.7" />
<line x1="614.2" y1="142" x2="614.2" y2="361.5" stroke="#1e1e1e" stroke-width="1.7" />
<text x="593.9" y="122.6" font-family="Liberation Serif" font-size="11" font-weight="bold" fill="#1a1a1a" text-anchor="start" stroke="#1a1a1a" stroke-width="0.3">WS</text>
<rect x="603.3" y="361.5" width="22.2" height="11.9" fill="#fff" stroke="#1e1e1e" stroke-width="1.5"/>
<line x1="614.2" y1="373.4" x2="614.2" y2="427.7" stroke="#1e1e1e" stroke-width="1.7" />
<circle cx="614.2" cy="427.7" r="2.8" fill="#000"/>
<text x="592.8" y="355.2" font-family="Liberation Serif" font-size="11" font-weight="bold" fill="#1a1a1a" text-anchor="start" stroke="#1a1a1a" stroke-width="0.3">KA1</text>
<circle cx="112.5" cy="50.0" r="2.7" fill="#000"/>
<circle cx="148.6" cy="50.0" r="2.7" fill="#000"/>
<circle cx="254.5" cy="50.0" r="2.7" fill="#000"/>
<circle cx="281" cy="50.0" r="2.7" fill="#000"/>
<circle cx="309.2" cy="50.0" r="2.7" fill="#000"/>
<circle cx="341.3" cy="50.0" r="2.7" fill="#000"/>
<circle cx="373.0" cy="50.0" r="2.7" fill="#000"/>
<circle cx="400.2" cy="50.0" r="2.7" fill="#000"/>
<circle cx="430.5" cy="50.0" r="2.7" fill="#000"/>
<circle cx="459.3" cy="50.0" r="2.7" fill="#000"/>
<circle cx="506.3" cy="50.0" r="2.7" fill="#000"/>
<circle cx="532.8" cy="50.0" r="2.7" fill="#000"/>
<circle cx="560.4" cy="50.0" r="2.7" fill="#000"/>
<circle cx="587.2" cy="50.0" r="2.7" fill="#000"/>
<circle cx="614.2" cy="50.0" r="2.7" fill="#000"/>
</svg></div></body></html>
